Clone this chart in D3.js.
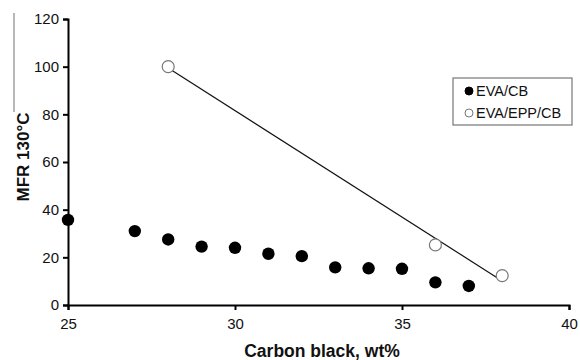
<!DOCTYPE html>
<html>
<head>
<meta charset="utf-8">
<script src="https://cdn.jsdelivr.net/npm/d3@7"></script>
<style>
  body { margin: 0; background: #fff; }
  text { font-family: "Liberation Sans", Arial, sans-serif; }
</style>
</head>
<body>
<svg width="580" height="360"></svg>
<script>
// data
var cbX = [25, 27, 28, 29, 30, 31, 32, 33, 34, 35, 36, 37];
var cbY = [35.7, 31.0, 27.5, 24.5, 24.0, 21.5, 20.5, 15.8, 15.4, 15.2, 9.5, 8.0];
var eppX = [28, 36, 38];
var eppY = [100, 25.2, 12.3];
var xTicks = [25, 30, 35, 40];
var yTicks = [0, 20, 40, 60, 80, 100, 120];
var seriesNames = ['EVA/CB', 'EVA/EPP/CB'];

var svg = d3.select('svg');

var ScaleX = d3.scaleLinear().domain([25, 40]).range([68, 569]);
var ScaleY = d3.scaleLinear().domain([0, 120]).range([305, 19]);

// stray grey line on the left edge
svg.append('line')
    .attr('x1', 14).attr('x2', 14)
    .attr('y1', 13).attr('y2', 112)
    .attr('stroke', '#888').attr('stroke-width', 1.2);

var xAxis = svg.append('g')
    .attr('transform', 'translate(0,305)')
    .call(d3.axisBottom(ScaleX).tickValues(xTicks).tickSize(5).tickPadding(8));
var yAxis = svg.append('g')
    .attr('transform', 'translate(68,0)')
    .call(d3.axisLeft(ScaleY).tickValues(yTicks).tickSize(5).tickPadding(4));

[xAxis, yAxis].forEach(function(a){
    a.select('.domain').attr('stroke', '#000').attr('stroke-width', 2);
    a.selectAll('.tick line').attr('stroke', '#000').attr('stroke-width', 2);
    a.selectAll('.tick text')
        .attr('font-size', 15)
        .attr('fill', '#111')
        .style('font-family', '"Liberation Sans", Arial, sans-serif');
});

// linear fit through EVA/EPP/CB
var mx = d3.mean(eppX), my = d3.mean(eppY);
var sxy = d3.sum(eppX, function(x, i){ return (x - mx) * (eppY[i] - my); });
var sxx = d3.sum(eppX, function(x){ return (x - mx) * (x - mx); });
var slope = sxy / sxx;
var x0 = d3.min(eppX), x1 = d3.max(eppX);
svg.append('line')
    .attr('x1', ScaleX(x0)).attr('y1', ScaleY(my + slope * (x0 - mx)))
    .attr('x2', ScaleX(x1)).attr('y2', ScaleY(my + slope * (x1 - mx)))
    .attr('stroke', '#111').attr('stroke-width', 1.2);

svg.selectAll('circle.cb')
    .data(cbX)
    .enter()
    .append('circle')
    .attr('class', 'cb')
    .attr('cx', function(d){ return ScaleX(d); })
    .attr('cy', function(d, i){ return ScaleY(cbY[i]); })
    .attr('r', 6.2)
    .attr('fill', '#000');

svg.selectAll('circle.epp')
    .data(eppX)
    .enter()
    .append('circle')
    .attr('class', 'epp')
    .attr('cx', function(d){ return ScaleX(d); })
    .attr('cy', function(d, i){ return ScaleY(eppY[i]); })
    .attr('r', 6)
    .attr('fill', '#fff')
    .attr('stroke', '#777')
    .attr('stroke-width', 1.2);

// legend
var legend = svg.append('g').attr('transform', 'translate(453,78)');
legend.append('rect')
    .attr('width', 119).attr('height', 47)
    .attr('fill', '#fff').attr('stroke', '#777').attr('stroke-width', 1.2);
seriesNames.forEach(function(name, i){
    var row = legend.append('g').attr('transform', 'translate(0,' + (13 + i * 22) + ')');
    row.append('circle')
        .attr('cx', 16).attr('cy', 0).attr('r', 4)
        .attr('fill', i == 0 ? '#000' : '#fff')
        .attr('stroke', i == 0 ? '#000' : '#777')
        .attr('stroke-width', 1);
    row.append('text')
        .attr('x', 23).attr('y', 5)
        .attr('font-size', 14.5)
        .attr('fill', '#111')
        .text(name);
});

// axis titles
svg.append('text')
    .attr('x', 322).attr('y', 357)
    .attr('text-anchor', 'middle')
    .attr('font-size', 17.5).attr('font-weight', 'bold')
    .attr('fill', '#111')
    .text('Carbon black, wt%');

svg.append('text')
    .attr('transform', 'rotate(270)')
    .attr('x', -157).attr('y', 29)
    .attr('text-anchor', 'middle')
    .attr('font-size', 17).attr('font-weight', 'bold')
    .attr('fill', '#111')
    .text('MFR 130°C');
</script>
</body>
</html>
